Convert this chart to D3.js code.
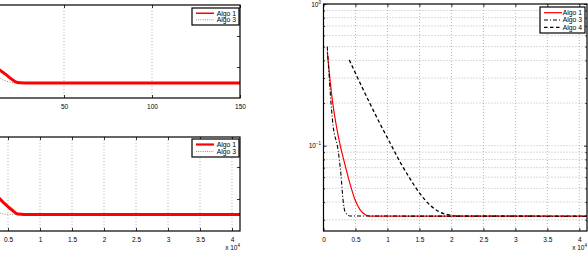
<!DOCTYPE html>
<html>
<head>
<meta charset="utf-8">
<script src="https://cdn.jsdelivr.net/npm/d3@7"></script>
<style>
  body { margin: 0; background: #fff; }
  svg { display: block; font-family: "Liberation Sans", Arial, sans-serif; }
</style>
</head>
<body>
<svg id="fig" width="588" height="258"></svg>
<script>
// ---- data ----
// top-left: error vs iterations
const topIter1 = [1, 8, 13.6, 16.5, 19.3, 22.2, 25, 30, 150];
const topAlgo1 = [1.71, 1.23, 0.90, 0.78, 0.65, 0.53, 0.49, 0.48, 0.48];
const topIter3 = [1, 8, 13.6, 19, 22, 30, 150];
const topAlgo3 = [1.5, 1.0, 0.645, 0.516, 0.49, 0.48, 0.48];
const topXTicks = [50, 100, 150];

// bottom-left: error vs time
const botTime1 = [1000, 3750, 5000, 5625, 6560, 7500, 41250];
const botAlgo1 = [1.9, 1.0, 0.76, 0.656, 0.53, 0.516, 0.516];
const botTime3 = [1000, 2500, 3750, 5000, 41250];
const botAlgo3 = [1.3, 0.75, 0.56, 0.52, 0.516];
const timeTicks = [0, 5000, 10000, 15000, 20000, 25000, 30000, 35000, 40000];
const leftYTicks = [1, 2];

// right: log error vs time
const rTime1 = [590, 1016, 1484, 2060, 2580, 3360, 4140, 4920, 5700, 6480, 7270, 41200];
const rAlgo1 = [0.461, 0.292, 0.194, 0.134, 0.102, 0.0735, 0.054, 0.0417, 0.0354, 0.0327, 0.0318, 0.0318];
const rTime3 = [590, 1480, 2270, 2730, 3050, 3360, 4140, 41200];
const rAlgo3 = [0.5, 0.1406, 0.0937, 0.0625, 0.0417, 0.0343, 0.0319, 0.0318];
const rTime4 = [4030, 5700, 7270, 8830, 10390, 11950, 13520, 15080, 16640, 18200, 19770, 21330, 41200];
const rAlgo4 = [0.403, 0.278, 0.198, 0.143, 0.105, 0.0771, 0.0586, 0.0459, 0.0381, 0.0340, 0.0324, 0.0318, 0.0318];
const rMajor = [1, 0.1];
const rMinor = [0.9, 0.8, 0.7, 0.6, 0.5, 0.4, 0.3, 0.2, 0.09, 0.08, 0.07, 0.06, 0.05, 0.04, 0.03];

const svg = d3.select("#fig");
const fontSize = 6.5;

function zip(xs, ys) { return xs.map((x, i) => [x, ys[i]]); }

// draw one MATLAB-style axes box
function drawPanel(id, x, y, opts) {
  const [x0, x1] = x.range();
  const [y0, y1] = y.range(); // y0 bottom, y1 top
  const g = svg.append("g");

  g.append("clipPath").attr("id", id)
    .append("rect").attr("x", x0).attr("y", y1).attr("width", x1 - x0).attr("height", y0 - y1);

  // grid
  const grid = g.append("g").attr("stroke", "#9a9a9a").attr("stroke-width", 0.7)
    .attr("stroke-dasharray", "1,2");
  opts.xTicks.filter(t => x(t) > x0 + 0.5 && x(t) < x1 - 0.5).forEach(t => {
    grid.append("line").attr("x1", x(t)).attr("x2", x(t)).attr("y1", y1).attr("y2", y0);
  });
  (opts.yGrid || []).forEach(t => {
    grid.append("line").attr("x1", x0).attr("x2", x1).attr("y1", y(t)).attr("y2", y(t));
  });

  // lines
  const line = d3.line().x(d => x(d[0])).y(d => y(d[1])).curve(d3.curveMonotoneX);
  const lg = g.append("g").attr("clip-path", `url(#${id})`);
  opts.series.forEach(s => {
    lg.append("path").datum(s.data)
      .attr("fill", "none")
      .attr("stroke", s.color)
      .attr("stroke-width", s.width)
      .attr("stroke-dasharray", s.dash || null)
      .attr("d", line);
  });

  // axes with inward ticks; labels only where they are on the page
  const shown = opts.xTicks.filter(t => x(t) >= 0);
  g.append("g").attr("transform", `translate(0,${y0})`)
    .call(d3.axisBottom(x).tickValues(shown).tickSize(-3).tickPadding(6).tickFormat(opts.xFormat));
  g.append("g").attr("transform", `translate(0,${y1})`)
    .call(d3.axisTop(x).tickValues(shown).tickSize(-3).tickFormat(""));
  g.append("g").attr("transform", `translate(${x1},0)`)
    .call(d3.axisRight(y).tickValues(opts.yTicks).tickSize(-3).tickFormat(""));
  g.append("g").attr("transform", `translate(${x0},0)`)
    .call(d3.axisLeft(y).tickValues(opts.yTicks).tickSize(-3).tickFormat(""));
  if (opts.yMinor) {
    g.append("g").attr("transform", `translate(${x1},0)`)
      .call(d3.axisRight(y).tickValues(opts.yMinor).tickSize(-1.6).tickFormat(""));
    g.append("g").attr("transform", `translate(${x0},0)`)
      .call(d3.axisLeft(y).tickValues(opts.yMinor).tickSize(-1.6).tickFormat(""));
  }
  g.selectAll(".domain").remove();
  g.selectAll(".tick line").attr("stroke", "#000").attr("stroke-width", 0.8);
  g.selectAll(".tick text").attr("font-size", fontSize).attr("fill", "#000")
    .attr("font-family", "Liberation Sans, Arial, sans-serif");

  // box
  g.append("rect").attr("x", x0).attr("y", y1).attr("width", x1 - x0).attr("height", y0 - y1)
    .attr("fill", "none").attr("stroke", "#000").attr("stroke-width", 1.2);
  return g;
}

function drawLegend(x, y, w, h, entries) {
  const g = svg.append("g").attr("transform", `translate(${x},${y})`);
  g.append("rect").attr("width", w).attr("height", h).attr("fill", "#fff")
    .attr("stroke", "#000").attr("stroke-width", 1.2);
  const rowH = (h - 4) / entries.length;
  entries.forEach((e, i) => {
    const cy = 2 + rowH * (i + 0.5);
    g.append("line").attr("x1", 4).attr("x2", 22).attr("y1", cy).attr("y2", cy)
      .attr("stroke", e.color).attr("stroke-width", e.width)
      .attr("stroke-dasharray", e.dash || null);
    g.append("text").attr("x", w - 3).attr("y", cy + 2.3).attr("text-anchor", "end")
      .attr("font-size", fontSize + 0.3).text(e.name);
  });
}

function powerLabel(x, y, base, exp, anchor) {
  const t = svg.append("text").attr("x", x).attr("y", y).attr("font-size", fontSize)
    .attr("text-anchor", anchor);
  t.append("tspan").text(base);
  t.append("tspan").attr("dy", -3).attr("font-size", 4.5).text(exp);
}

const sciFormat = d => d3.format("~g")(d / 1e4);

// ---- top-left ----
const xTop = d3.scaleLinear().domain([0, 150]).range([-24, 240]);
const yTop = d3.scaleLinear().domain([0, 3]).range([98, 5]);
drawPanel("clipTL", xTop, yTop, {
  xTicks: topXTicks, xFormat: d3.format("d"), yTicks: leftYTicks,
  series: [
    { data: zip(topIter3, topAlgo3), color: "#8c8c8c", width: 1, dash: "1,1.5" },
    { data: zip(topIter1, topAlgo1), color: "#ff0000", width: 3 }
  ]
});
drawLegend(192, 8, 47, 17, [
  { name: "Algo 1", color: "#ff0000", width: 1.5 },
  { name: "Algo 3", color: "#777", width: 0.8, dash: "1,1.2" }
]);

// ---- bottom-left ----
const xBot = d3.scaleLinear().domain([0, 41250]).range([-24, 240]);
const yBot = d3.scaleLinear().domain([0, 2.94]).range([231, 137]);
drawPanel("clipBL", xBot, yBot, {
  xTicks: timeTicks, xFormat: sciFormat, yTicks: leftYTicks,
  series: [
    { data: zip(botTime3, botAlgo3), color: "#8c8c8c", width: 1, dash: "1,1.5" },
    { data: zip(botTime1, botAlgo1), color: "#ff0000", width: 3 }
  ]
});
drawLegend(192, 139, 47, 18, [
  { name: "Algo 1", color: "#ff0000", width: 2.2 },
  { name: "Algo 3", color: "#777", width: 0.8, dash: "1,1.2" }
]);
powerLabel(240, 250, "x 10", "4", "end");

// ---- right ----
const xR = d3.scaleLinear().domain([0, 41200]).range([323.5, 587]);
const yR = d3.scaleLog().domain([0.025, 1]).range([231, 4]);
drawPanel("clipR", xR, yR, {
  xTicks: timeTicks, xFormat: sciFormat, yTicks: rMajor, yMinor: rMinor,
  yGrid: rMajor.concat(rMinor).filter(v => v < 1),
  series: [
    { data: zip(rTime4, rAlgo4), color: "#000", width: 1.3, dash: "3.5,2.5" },
    { data: zip(rTime1, rAlgo1), color: "#ff0000", width: 1.2 },
    { data: zip(rTime3, rAlgo3), color: "#000", width: 1.1, dash: "4,2,1,2" }
  ]
});
rMajor.forEach((v, i) => {
  powerLabel(321, yR(v) + 2.5, "10", i === 0 ? "0" : "\u22121", "end");
});
drawLegend(540, 7, 45, 26, [
  { name: "Algo 1", color: "#ff0000", width: 1.2 },
  { name: "Algo 3", color: "#000", width: 1, dash: "4,2,1,2" },
  { name: "Algo 4", color: "#000", width: 1.2, dash: "3.5,2.5" }
]);
powerLabel(587, 250, "x 10", "4", "end");
</script>
</body>
</html>
